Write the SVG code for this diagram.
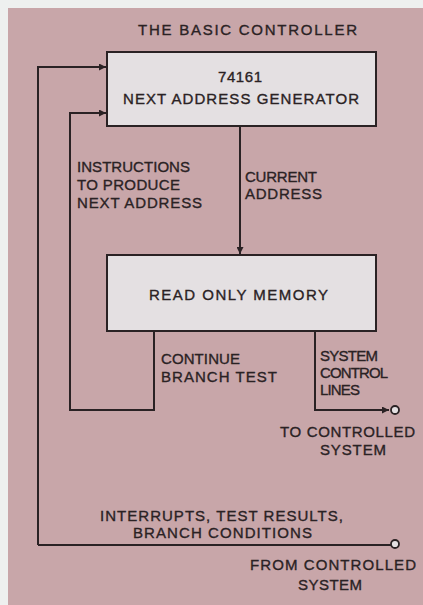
<svg xmlns="http://www.w3.org/2000/svg" width="423" height="605" viewBox="0 0 423 605">
<style>
.bg{fill:#c8a6a9}
.box{fill:#e4e0e2;stroke:#2a2224;stroke-width:2}
.ln{fill:none;stroke:#2a2224;stroke-width:2}
.t{font-family:"Liberation Sans",Arial,sans-serif;font-size:15px;fill:#2a2224;stroke:#2a2224;stroke-width:0.35}
.term{fill:#e4e0e2;stroke:#2a2224;stroke-width:1.8}
</style>
<defs>
<marker id="ahd" viewBox="0 0 10 10" refX="10" refY="5" markerWidth="14" markerHeight="7" orient="auto" markerUnits="userSpaceOnUse">
<path d="M0,0 L10,5 L0,10 z" fill="#2a2224"/>
</marker>
</defs>
<rect x="0" y="0" width="423" height="605" fill="#eef0ef"/>
<rect class="bg" x="8" y="8" width="415" height="597"/>
<text class="t" x="138" y="35" textLength="219" lengthAdjust="spacing">THE BASIC CONTROLLER</text>
<g id="connectors">
<path class="ln" d="M38,545 V67 H106" marker-end="url(#ahd)"/>
<path class="ln" d="M154,331 V410 H70 V113 H106" marker-end="url(#ahd)"/>
<path class="ln" d="M240,126 V254" marker-end="url(#ahd)"/>
<path class="ln" d="M315,331 V410 H389" marker-end="url(#ahd)"/>
<path class="ln" d="M38,545 H391"/>
<circle class="term" cx="395" cy="410" r="4"/>
<circle class="term" cx="395" cy="544" r="4"/>
<text class="t" x="77" y="172" textLength="113" lengthAdjust="spacing">INSTRUCTIONS</text>
<text class="t" x="77" y="190" textLength="103" lengthAdjust="spacing">TO PRODUCE</text>
<text class="t" x="77" y="208" textLength="125" lengthAdjust="spacing">NEXT ADDRESS</text>
<text class="t" x="245" y="182" textLength="72" lengthAdjust="spacing">CURRENT</text>
<text class="t" x="245" y="199" textLength="77" lengthAdjust="spacing">ADDRESS</text>
<text class="t" x="161" y="364" textLength="79" lengthAdjust="spacing">CONTINUE</text>
<text class="t" x="161" y="382" textLength="116" lengthAdjust="spacing">BRANCH TEST</text>
<text class="t" x="320" y="361" textLength="58" lengthAdjust="spacing">SYSTEM</text>
<text class="t" x="320" y="378" textLength="68" lengthAdjust="spacing">CONTROL</text>
<text class="t" x="320" y="395" textLength="40" lengthAdjust="spacing">LINES</text>
<text class="t" x="280" y="437" textLength="135" lengthAdjust="spacing">TO CONTROLLED</text>
<text class="t" x="320" y="455" textLength="66" lengthAdjust="spacing">SYSTEM</text>
<text class="t" x="100" y="521" textLength="243" lengthAdjust="spacing">INTERRUPTS, TEST RESULTS,</text>
<text class="t" x="133" y="538" textLength="179" lengthAdjust="spacing">BRANCH CONDITIONS</text>
<text class="t" x="250" y="570" textLength="166" lengthAdjust="spacing">FROM CONTROLLED</text>
<text class="t" x="298" y="590" textLength="64" lengthAdjust="spacing">SYSTEM</text>
</g>
<g id="next-address-generator">
<rect class="box" x="107" y="52" width="269" height="74"/>
<text class="t" x="218" y="82" textLength="44" lengthAdjust="spacing">74161</text>
<text class="t" x="123" y="104" textLength="236" lengthAdjust="spacing">NEXT ADDRESS GENERATOR</text>
</g>
<g id="read-only-memory">
<rect class="box" x="107" y="255" width="269" height="76"/>
<text class="t" x="149" y="300" textLength="179" lengthAdjust="spacing">READ ONLY MEMORY</text>
</g>
</svg>
